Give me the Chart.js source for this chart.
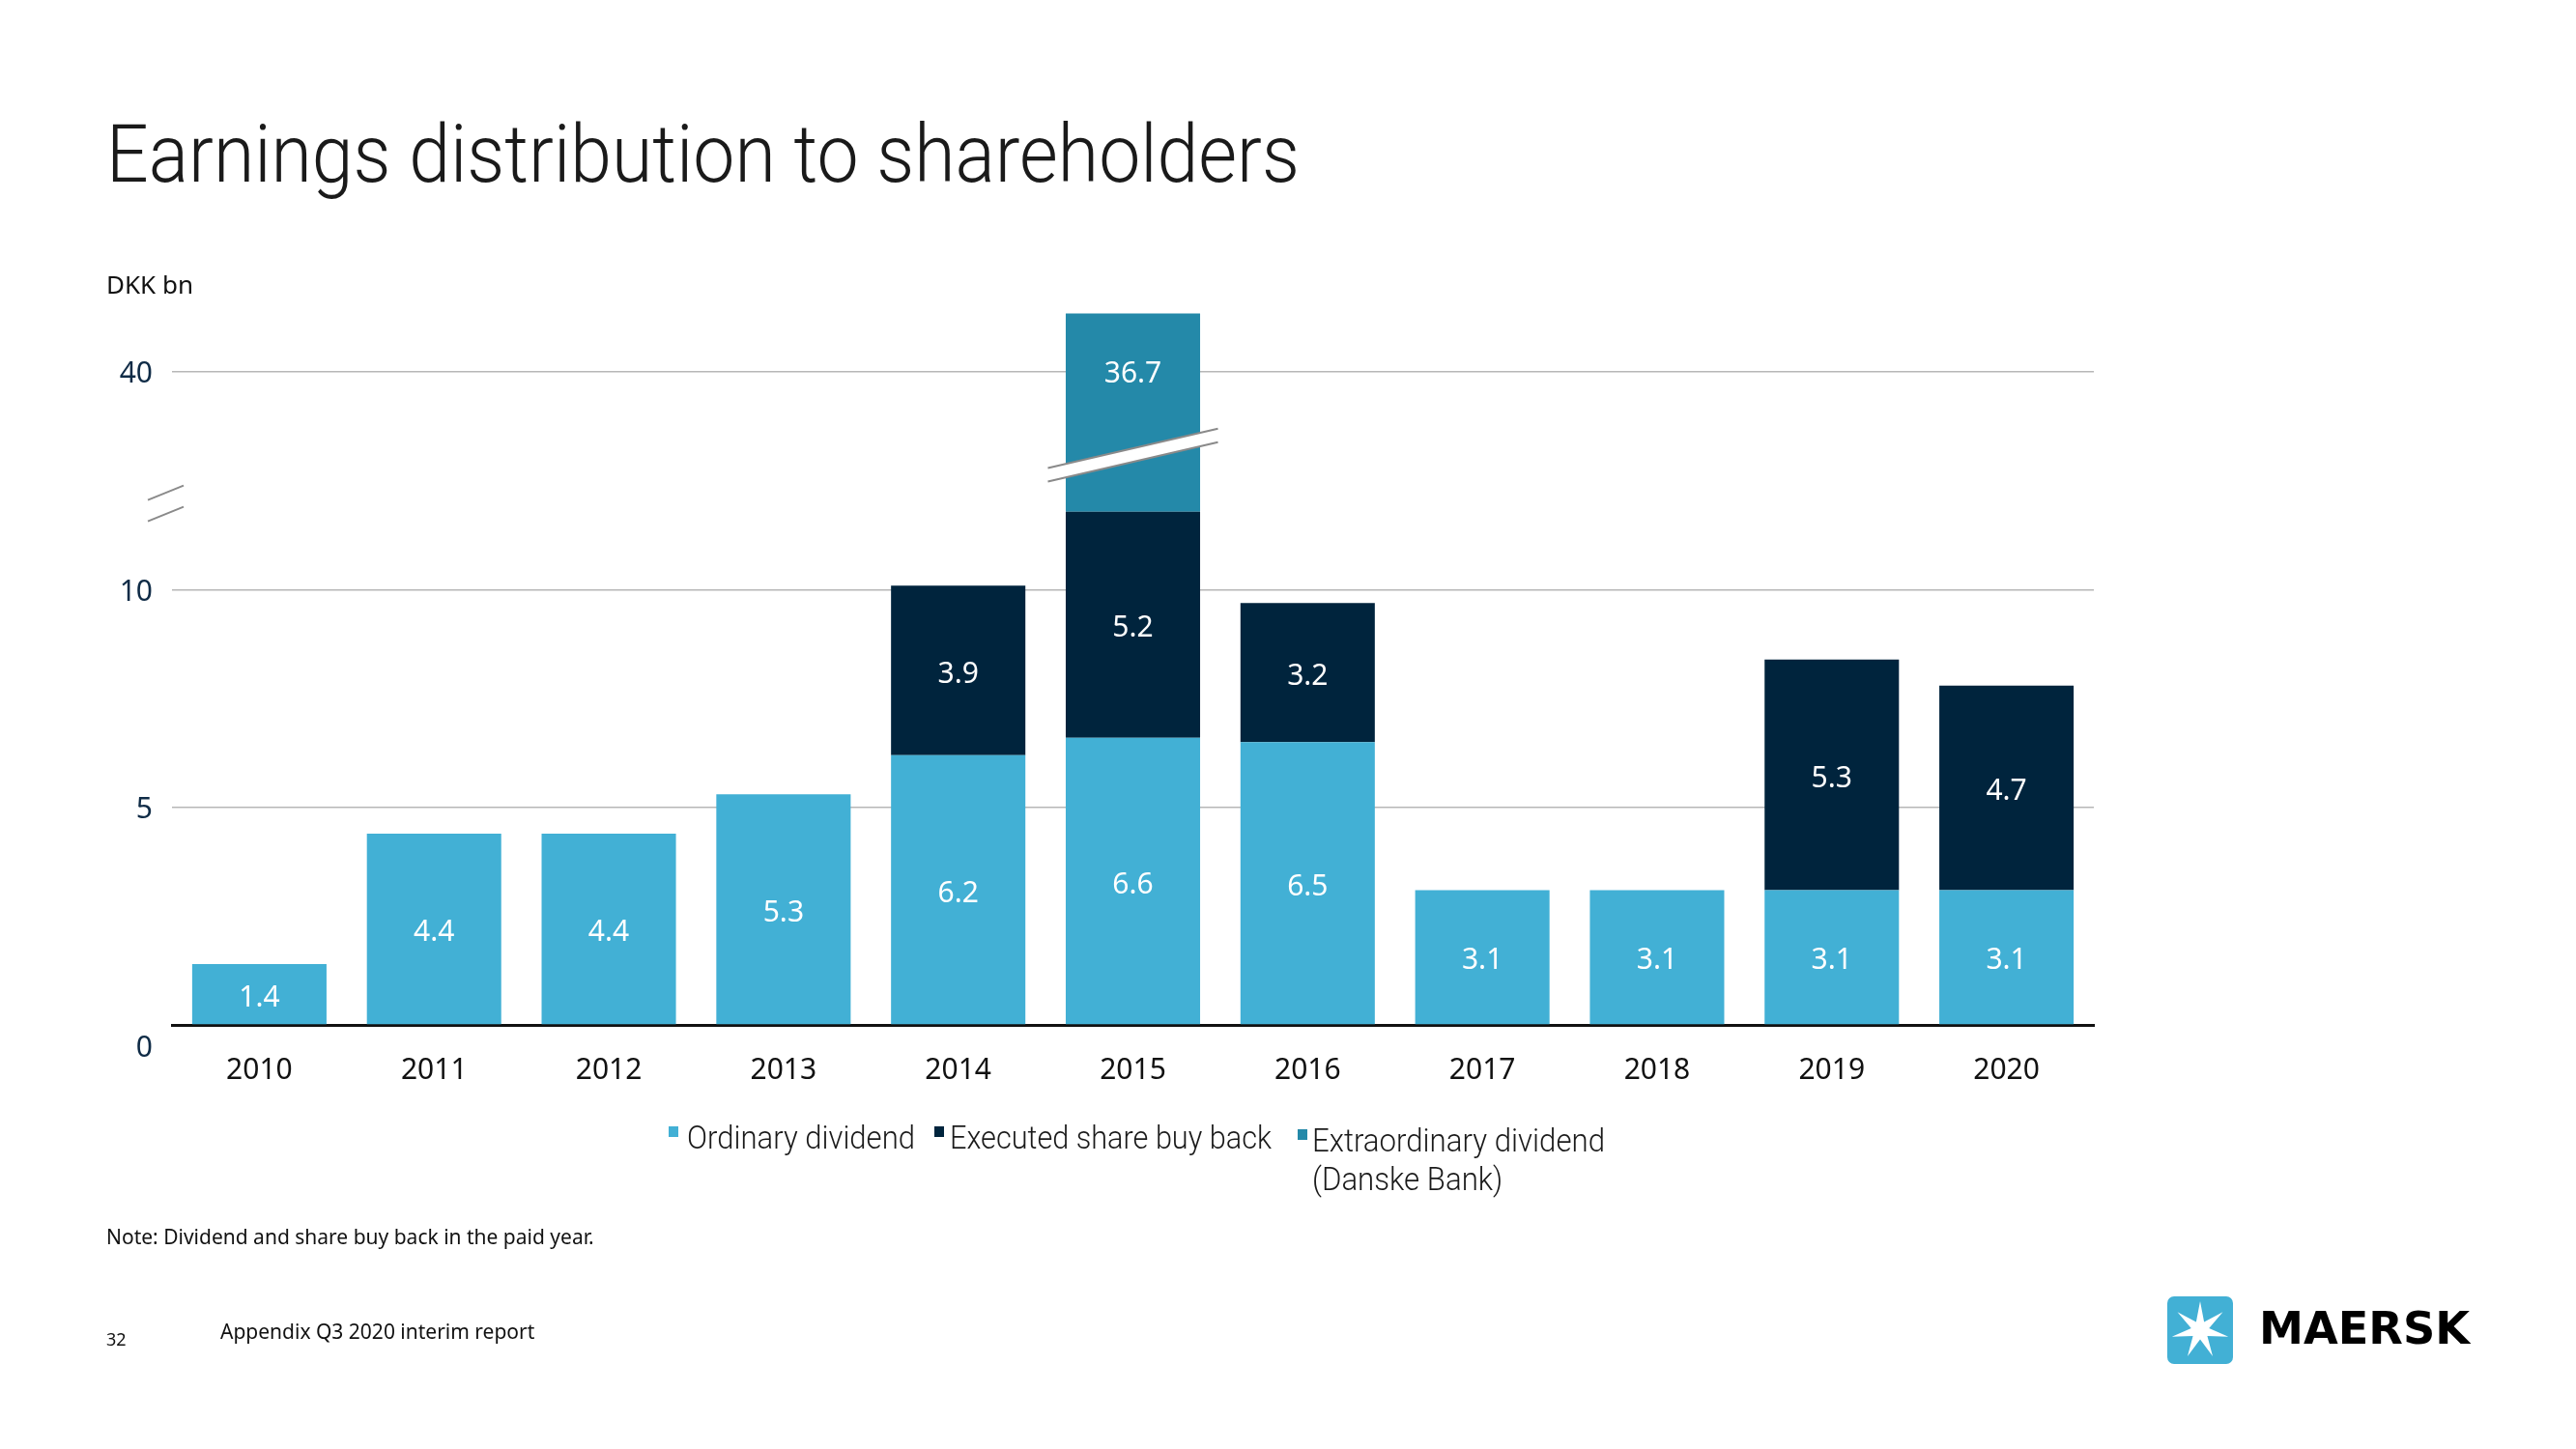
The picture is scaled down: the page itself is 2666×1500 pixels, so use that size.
<!DOCTYPE html>
<html><head><meta charset="utf-8">
<script src="https://cdn.jsdelivr.net/npm/chart.js@4.4.1/dist/chart.umd.min.js"></script>
<style>
html,body{margin:0;padding:0;background:#fff;}
body{width:2666px;height:1500px;overflow:hidden;position:relative;font-family:"Noto Sans",sans-serif;}
#chart{position:absolute;left:0;top:0;}
.txt{position:absolute;white-space:nowrap;line-height:1;}
#title{left:110px;top:118px;font-family:Roboto,sans-serif;font-weight:300;font-size:84px;color:#1a1a1a;transform-origin:0 0;}
#unit{left:110px;top:281px;font-size:26px;color:#111;}
#note{left:110px;top:1270px;font-size:21px;color:#111;}
#page{left:110px;top:1377px;font-size:18px;color:#111;}
#foot{left:228px;top:1368px;font-size:21px;color:#111;}
.lg-sq{position:absolute;width:10px;height:11px;}
.lg-tx{position:absolute;font-family:Roboto,sans-serif;font-weight:300;font-size:34px;line-height:40px;color:#1a1a1a;white-space:nowrap;transform-origin:0 0;}
#brand{left:2338px;top:1352px;font-family:"DejaVu Sans",sans-serif;font-weight:bold;font-size:46px;color:#000;transform-origin:0 0;}
</style>
</head><body>
<canvas id="chart" width="2666" height="1500"></canvas>
<div class="txt" id="title">Earnings distribution to shareholders</div>
<div class="txt" id="unit">DKK bn</div>
<div class="txt" id="note">Note: Dividend and share buy back in the paid year.</div>
<div class="txt" id="page">32</div>
<div class="txt" id="foot">Appendix Q3 2020 interim report</div>
<div id="legend"></div>
<svg id="logo" style="position:absolute;left:2243px;top:1342px" width="68" height="70"></svg>
<div class="txt" id="brand">MAERSK</div>
<script>
// ---------- data ----------
const years = ['2010','2011','2012','2013','2014','2015','2016','2017','2018','2019','2020'];
const ordinaryDividend = [1.4, 4.4, 4.4, 5.3, 6.2, 6.6, 6.5, 3.1, 3.1, 3.1, 3.1];
const shareBuyBack = [null, null, null, null, 3.9, 5.2, 3.2, null, null, 5.3, 4.7];
const extraordinaryDividend = [null, null, null, null, null, 36.7, null, null, null, null, null];
const yTickValues = [0, 5, 10, 40];
const seriesNames = ['Ordinary dividend', 'Executed share buy back', ['Extraordinary dividend', '(Danske Bank)']];
const seriesColors = ['#42b0d5', '#00243d', '#2489a9'];

// ---------- broken axis mapping (real value -> drawn distance) ----------
const breakIn  = [0, 12, 40, 48.5];
const breakOut = [0, 12, 15.02, 16.36];
function squash(v){
  for (let i = 1; i < breakIn.length; i++) {
    if (v <= breakIn[i] || i === breakIn.length - 1) {
      const a = breakIn[i-1], b = breakIn[i], c = breakOut[i-1], d = breakOut[i];
      return c + (v - a) * (d - c) / (b - a);
    }
  }
}
function unsquash(s){
  for (let i = 1; i < breakOut.length; i++) {
    if (s <= breakOut[i] || i === breakOut.length - 1) {
      const a = breakOut[i-1], b = breakOut[i], c = breakIn[i-1], d = breakIn[i];
      return c + (s - a) * (d - c) / (b - a);
    }
  }
}
class BrokenLinearScale extends Chart.LinearScale {
  getPixelForValue(v){
    const lo = squash(this.min), hi = squash(this.max);
    return this.getPixelForDecimal((squash(v) - lo) / (hi - lo));
  }
  getValueForPixel(p){
    const lo = squash(this.min), hi = squash(this.max);
    return unsquash(lo + this.getDecimalForPixel(p) * (hi - lo));
  }
}
BrokenLinearScale.id = 'brokenLinear';
BrokenLinearScale.defaults = Chart.LinearScale.defaults;
Chart.register(BrokenLinearScale);

const AXIS_BREAK_VALUE = 12;
const BAR_BREAK_VALUE = 22.2;

const overlay = {
  id: 'overlay',
  afterDatasetsDraw(chart){
    const ctx = chart.ctx, y = chart.scales.y;
    ctx.save();
    // break on the bar with the extraordinary dividend
    const meta = chart.getDatasetMeta(2);
    meta.data.forEach((el, i) => {
      if (extraordinaryDividend[i] == null) return;
      const cx = el.x, cy = y.getPixelForValue(BAR_BREAK_VALUE);
      const L = 88, s = -0.231, g = 7;
      ctx.beginPath();
      ctx.moveTo(cx - L, cy - g + s * (-L));
      ctx.lineTo(cx + L, cy - g + s * L);
      ctx.lineTo(cx + L, cy + g + s * L);
      ctx.lineTo(cx - L, cy + g + s * (-L));
      ctx.closePath();
      ctx.fillStyle = '#fff'; ctx.fill();
      ctx.strokeStyle = '#8a8a8a'; ctx.lineWidth = 2;
      ctx.beginPath();
      ctx.moveTo(cx - L, cy - g + s * (-L)); ctx.lineTo(cx + L, cy - g + s * L);
      ctx.moveTo(cx - L, cy + g + s * (-L)); ctx.lineTo(cx + L, cy + g + s * L);
      ctx.stroke();
    });
    // break marks on the value axis
    const yb = y.getPixelForValue(AXIS_BREAK_VALUE);
    ctx.strokeStyle = '#8a8a8a'; ctx.lineWidth = 2;
    ctx.beginPath();
    ctx.moveTo(153, yb - 3); ctx.lineTo(190, yb - 18);
    ctx.moveTo(153, yb + 19); ctx.lineTo(190, yb + 4);
    ctx.stroke();
    // value labels
    ctx.fillStyle = '#fff';
    ctx.font = '30px "Noto Sans"';
    ctx.textAlign = 'center'; ctx.textBaseline = 'middle';
    chart.data.datasets.forEach((ds, di) => {
      chart.getDatasetMeta(di).data.forEach((el, i) => {
        const v = ds.data[i];
        if (v == null) return;
        const ly = di === 2 ? el.y + 61 : (el.y + el.base) / 2 + 2;
        ctx.fillText(v.toFixed(1), el.x, ly + 2);
      });
    });
    // zero label sits below the axis line
    ctx.fillStyle = '#0f2b46';
    ctx.textAlign = 'right';
    ctx.fillText('0', y.right - 20, y.getPixelForValue(0) + 24);
    ctx.restore();
  }
};

new Chart(document.getElementById('chart'), {
  type: 'bar',
  data: {
    labels: years,
    datasets: [
      { label: 'Ordinary dividend', data: ordinaryDividend, backgroundColor: seriesColors[0] },
      { label: 'Executed share buy back', data: shareBuyBack, backgroundColor: seriesColors[1] },
      { label: 'Extraordinary dividend (Danske Bank)', data: extraordinaryDividend, backgroundColor: seriesColors[2] }
    ]
  },
  options: {
    responsive: false,
    animation: false,
    devicePixelRatio: 1,
    layout: { padding: { left: 78, right: 499, top: 318, bottom: 339 } },
    datasets: { bar: { barPercentage: 0.769, categoryPercentage: 1, borderWidth: 0 } },
    plugins: { legend: { display: false }, tooltip: { enabled: false } },
    scales: {
      x: {
        stacked: true,
        z: 1,
        grid: { display: false, drawTicks: false },
        border: { display: true, color: '#111', width: 3 },
        ticks: { color: '#111', font: { family: 'Noto Sans', size: 30 }, padding: 29, maxRotation: 0 },
        afterFit: s => { s.height = 100; }
      },
      y: {
        type: 'brokenLinear',
        stacked: true,
        min: 0,
        max: 49.4,
        grid: {
          drawTicks: false,
          color: c => (c.tick && c.tick.value === 0) ? 'rgba(0,0,0,0)' : '#b7b7b7',
          lineWidth: 1.5
        },
        border: { display: false },
        afterBuildTicks: s => { s.ticks = yTickValues.map(v => ({ value: v })); },
        ticks: {
          color: c => (c.tick && c.tick.value === 0) ? 'rgba(0,0,0,0)' : '#0f2b46',
          font: { family: 'Noto Sans', size: 30 },
          padding: 20,
          labelOffset: 3,
          callback: v => String(v)
        },
        afterFit: s => { s.width = 100; }
      }
    }
  },
  plugins: [overlay]
});

// ---------- legend ----------
const legendPos = [
  { sq: 692, tx: 711, w: 236, top: 1157 },
  { sq: 967, tx: 983, w: 333, top: 1157 },
  { sq: 1343, tx: 1358, w: 303, top: 1160 }
];
const legend = document.getElementById('legend');
seriesNames.forEach((name, i) => {
  const p = legendPos[i];
  const sq = document.createElement('div');
  sq.className = 'lg-sq';
  sq.style.background = seriesColors[i];
  sq.style.left = p.sq + 'px';
  sq.style.top = (p.top + 9) + 'px';
  legend.appendChild(sq);
  const tx = document.createElement('div');
  tx.className = 'lg-tx';
  tx.style.left = p.tx + 'px';
  tx.style.top = p.top + 'px';
  const lines = Array.isArray(name) ? name : [name];
  lines.forEach(l => {
    const d = document.createElement('div');
    d.textContent = l;
    tx.appendChild(d);
  });
  legend.appendChild(tx);
  const first = tx.firstChild;
  first.style.display = 'inline-block';
  const sc = p.w / first.getBoundingClientRect().width;
  first.style.display = 'block';
  tx.style.transform = 'scaleX(' + sc + ')';
});

function fitWidth(id, w){
  const el = document.getElementById(id);
  const cur = el.getBoundingClientRect().width;
  el.style.transform = 'scaleX(' + (w / cur) + ')';
}
fitWidth('title', 1235);
fitWidth('brand', 218);

// ---------- logo ----------
(function(){
  const svg = document.getElementById('logo');
  const cx = 34, cy = 35, R = 30, r = 9.5, n = 7;
  const pts = [];
  for (let k = 0; k < 2 * n; k++) {
    const a = -Math.PI / 2 + k * Math.PI / n;
    const rad = k % 2 === 0 ? R : r;
    pts.push((cx + rad * Math.cos(a)).toFixed(2) + ',' + (cy + rad * Math.sin(a)).toFixed(2));
  }
  svg.innerHTML = '<rect x="0" y="0" width="68" height="70" rx="7" fill="#42b0d5"/>' +
    '<polygon points="' + pts.join(' ') + '" fill="#fff"/>';
})();
</script>
</body></html>
